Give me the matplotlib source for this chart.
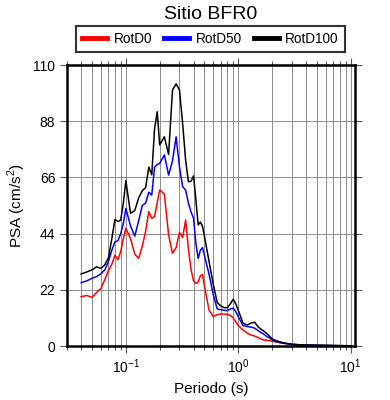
import matplotlib
matplotlib.use("Agg")
import matplotlib.pyplot as plt
from matplotlib.ticker import LogLocator, FixedLocator, NullFormatter

plt.rcParams["font.family"] = ["Liberation Sans", "DejaVu Sans"]
plt.rcParams["mathtext.fontset"] = "custom"
plt.rcParams["mathtext.rm"] = "Liberation Sans"

# periods (s) and spectral accelerations (cm/s^2)
periods = [0.04, 0.045, 0.05, 0.055, 0.06, 0.065, 0.07, 0.075, 0.08, 0.085,
           0.09, 0.095, 0.10, 0.11, 0.12, 0.13, 0.14, 0.15, 0.16, 0.17,
           0.18, 0.19, 0.20, 0.22, 0.24, 0.26, 0.28, 0.30, 0.32, 0.34,
           0.36, 0.38, 0.40, 0.42, 0.44, 0.46, 0.48, 0.50, 0.55, 0.60,
           0.65, 0.70, 0.75, 0.80, 0.85, 0.90, 0.95, 1.0, 1.1, 1.2,
           1.3, 1.4, 1.5, 1.6, 1.7, 1.8, 1.9, 2.0, 2.2, 2.4,
           2.6, 2.8, 3.0, 3.5, 4.0, 5.0, 6.0, 7.0, 8.0, 9.0, 10.0]

rotd0 = [19.3, 19.8, 19.0, 21.0, 22.5, 26.0, 29.5, 32.0, 35.6, 33.8,
         37.0, 42.0, 46.1, 42.0, 36.0, 34.3, 39.0, 45.0, 52.6, 50.0,
         50.6, 56.0, 61.1, 59.5, 43.5, 36.3, 38.5, 44.5, 42.5, 49.3,
         38.0, 30.0, 25.5, 24.5, 25.0, 27.5, 28.0, 23.5, 14.0, 11.5,
         12.3, 12.5, 12.5, 12.3, 12.0, 11.0, 9.5, 8.0, 6.3, 5.0,
         4.3, 3.9, 3.3, 2.7, 2.3, 2.2, 2.1, 1.9, 1.5, 1.2,
         1.0, 0.8, 0.6, 0.45, 0.35, 0.25, 0.2, 0.15, 0.12, 0.1, 0.08]

rotd50 = [24.8, 25.5, 26.5, 27.2, 28.3, 29.8, 33.0, 37.5, 40.8, 41.2,
          44.0, 48.0, 53.9, 47.0, 43.0, 49.0, 55.0, 56.0, 60.2, 59.1,
          70.0, 71.0, 71.5, 74.8, 66.9, 72.5, 81.9, 70.0, 62.4, 61.0,
          56.0, 52.5, 50.0, 40.0, 34.3, 37.5, 38.5, 35.5, 28.0, 20.0,
          14.5, 14.2, 14.0, 13.8, 14.5, 14.8, 13.5, 11.5, 8.0, 7.6,
          7.4, 7.0, 6.0, 5.2, 4.5, 3.7, 3.2, 2.4, 1.7, 1.3,
          1.0, 0.8, 0.6, 0.45, 0.35, 0.25, 0.2, 0.16, 0.12, 0.1, 0.08]

rotd100 = [28.2, 29.0, 29.8, 31.0, 30.4, 31.8, 34.5, 42.0, 49.6, 48.7,
           49.3, 56.0, 64.7, 52.0, 53.0, 58.0, 60.8, 62.0, 70.0, 67.0,
           85.0, 91.7, 78.7, 81.9, 75.0, 100.2, 102.6, 100.2, 87.0, 72.8,
           64.3, 64.5, 66.6, 57.0, 47.4, 48.5, 47.0, 43.0, 33.0, 24.0,
           17.0, 15.7, 15.0, 15.0, 16.5, 18.3, 16.5, 14.0, 9.0, 8.2,
           9.0, 9.3, 7.5, 6.5, 5.7, 4.8, 3.8, 2.8, 2.0, 1.5,
           1.1, 0.9, 0.7, 0.5, 0.4, 0.3, 0.25, 0.2, 0.15, 0.12, 0.1]

yticks = [0, 22, 44, 66, 88, 110]

fig = plt.figure(figsize=(3.9, 4.0), dpi=100)
ax = fig.add_axes([0.172, 0.135, 0.738, 0.7025])

ax.plot(periods, rotd0, color="red", lw=1.1, label="RotD0")
ax.plot(periods, rotd50, color="blue", lw=1.1, label="RotD50")
ax.plot(periods, rotd100, color="black", lw=1.1, label="RotD100")

ax.set_xscale("log")
ax.set_xlim(0.03, 10.9)
ax.set_ylim(0, 110)
ax.xaxis.set_major_locator(LogLocator(base=10, numticks=10))
ax.xaxis.set_minor_locator(LogLocator(base=10, subs=range(2, 10), numticks=20))
ax.xaxis.set_minor_formatter(NullFormatter())
ax.yaxis.set_major_locator(FixedLocator(yticks))

ax.grid(True, which="both", axis="x", color="#8c8c8c", lw=0.7)
ax.grid(True, which="major", axis="y", color="#8c8c8c", lw=0.7)
ax.set_axisbelow(True)

for s in ax.spines.values():
    s.set_linewidth(1.8)
ax.tick_params(which="both", direction="out", top=True, right=True,
               labelsize=10, width=0.8, color="#555555")
ax.tick_params(which="major", length=5)
ax.tick_params(which="minor", length=3)

ax.set_xlabel("Periodo (s)", fontsize=11)
ax.set_ylabel("PSA (cm/s$^2$)", fontsize=11)

fig.text(0.54, 0.963, "Sitio BFR0", ha="center", va="center", fontsize=14)
leg = fig.legend(loc="center", bbox_to_anchor=(0.54, 0.9025), ncol=3,
                 fontsize=9.8, frameon=True, fancybox=False, edgecolor="black",
                 handlelength=1.8, handletextpad=0.5, columnspacing=0.9,
                 borderpad=0.45)
leg.get_frame().set_linewidth(1.5)
for h in leg.get_lines():
    h.set_linewidth(3.5)

fig.savefig("out.png", dpi=100)
